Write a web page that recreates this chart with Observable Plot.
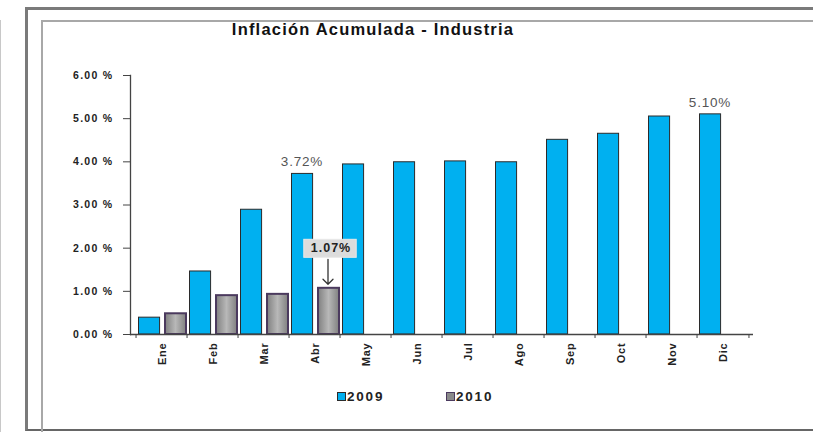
<!DOCTYPE html>
<html>
<head>
<meta charset="utf-8">
<script src="https://cdn.jsdelivr.net/npm/d3@7"></script>
<script src="https://cdn.jsdelivr.net/npm/@observablehq/plot@0.6"></script>
<style>
  html, body { margin: 0; padding: 0; background: #fff; width: 813px; height: 432px; overflow: hidden; }
  body { position: relative; font-family: "Liberation Sans", Arial, sans-serif; }
  #chart { position: absolute; left: 0; top: 0; }
  .frame-outer { position: absolute; left: 25px; top: 7px; width: 820px; height: 419px;
    border-left: 3px solid #7a7a7a; border-top: 3px solid #7a7a7a; border-bottom: 2px solid #666; }
  .frame-inner { position: absolute; left: 41px; top: 20px; width: 800px; height: 430px;
    border-left: 2px solid #a8a8a8; border-top: 2px solid #a8a8a8; }
  .edge { position: absolute; left: 0; top: 20px; width: 1px; height: 420px; background: #c8c8c8; }
  #title { position: absolute; left: 0; width: 746px; top: 20px; text-align: center;
    font-weight: bold; font-size: 16.5px; letter-spacing: 1.2px; color: #111; }
  #legend { position: absolute; top: 389px; left: 0; width: 813px; font-weight: bold; font-size: 13.5px; color: #222; letter-spacing: 1.8px; }
  .item { position: absolute; display: flex; align-items: center; }
  .sw { width: 7px; height: 7px; margin-right: 1px; }
</style>
</head>
<body>
<div class="edge"></div>
<div class="frame-outer"></div>
<div class="frame-inner"></div>
<div id="chart"></div>
<div id="title">Inflación Acumulada - Industria</div>
<div id="legend"></div>
<script>
const months = ["Ene","Feb","Mar","Abr","May","Jun","Jul","Ago","Sep","Oct","Nov","Dic"];
const values2009 = [0.39, 1.46, 2.89, 3.72, 3.94, 3.99, 4.01, 3.99, 4.51, 4.65, 5.05, 5.10];
const values2010 = [0.48, 0.90, 0.93, 1.07];
const series = ["2009", "2010"];
const yTicks = [0, 1, 2, 3, 4, 5, 6];
const plainLabels = [{month: "Abr", value: 3.72, label: "3.72%"}, {month: "Dic", value: 5.10, label: "5.10%"}];
const boxedLabels = [{month: "Abr", value: 1.07, label: "1.07%"}];

const colors = {"2009": "#00b0f0", "2010": "url(#grad2010)"};
const strokes = {"2009": "#2b2b2b", "2010": "#4b3a5e"};

const d2009 = months.map((m, i) => ({month: m, value: values2009[i]}));
const d2010 = values2010.map((v, i) => ({month: months[i], value: v}));

const W = 813, H = 432;
const mL = 130, mR = 60, mT = 75, mB = 98;
const bw = (W - mL - mR) / months.length;

const plot = Plot.plot({
  width: W, height: H,
  marginLeft: mL, marginRight: mR, marginTop: mT, marginBottom: mB,
  style: {background: "transparent", overflow: "visible", fontFamily: "'Liberation Sans', Arial, sans-serif"},
  x: {type: "band", domain: months, padding: 0},
  y: {domain: [0, 6], ticks: yTicks},
  marks: [
    Plot.barY(d2009, {x: "month", y: "value", fill: colors["2009"], stroke: strokes["2009"], strokeWidth: 1,
      insetLeft: 2.5, insetRight: bw - 24.5}),
    Plot.barY(d2010, {x: "month", y: "value", fill: colors["2010"], stroke: strokes["2010"], strokeWidth: 2,
      insetLeft: 29, insetRight: 1}),
    Plot.ruleY([0], {stroke: "#444", strokeWidth: 1.3}),
    Plot.frame({anchor: "left", stroke: "#444", strokeWidth: 1.3}),
    Plot.axisY({ticks: yTicks, tickSize: 7, tickPadding: 10, tickFormat: d => d.toFixed(2) + " %",
      fontWeight: "bold", fontSize: 10.5, fill: "#222", stroke: "#444", label: null, className: "yax"}),
    Plot.axisX({tickSize: 4, dx: -bw / 2, text: null, label: null, stroke: "#444"}),
    Plot.axisX(["Dic"], {tickSize: 4, dx: bw / 2, text: null, label: null, stroke: "#444"}),
    Plot.axisX({tickSize: 0, tickPadding: 8, tickRotate: -90, label: null, fontWeight: "bold", fontSize: 11, fill: "#222"}),
    Plot.text(plainLabels, {x: "month", y: "value", text: "label", dx: -13, dy: -12, fill: "#555", fontSize: 13.5}),
    Plot.text(boxedLabels, {x: "month", y: "value", text: "label", dx: 16, dy: -40, fill: "#222", fontSize: 12.5, fontWeight: "bold", className: "boxed"}),
    Plot.vector(boxedLabels, {x: "month", y: "value", dx: 13, dy: -29, length: 25, rotate: 180, anchor: "start", stroke: "#333", strokeWidth: 1.3, shape: "arrow"})
  ]
});
document.getElementById("chart").appendChild(plot);

// gradient for the 2010 bars
const svg = d3.select(plot);
const defs = svg.insert("defs", ":first-child");
const g = defs.append("linearGradient").attr("id", "grad2010").attr("x1", 0).attr("x2", 1).attr("y1", 0).attr("y2", 0);
g.append("stop").attr("offset", "0%").attr("stop-color", "#808080");
g.append("stop").attr("offset", "50%").attr("stop-color", "#b8b8b8");
g.append("stop").attr("offset", "100%").attr("stop-color", "#808080");

// letter spacing on the axis labels
svg.selectAll("text").filter(function() { return !this.closest(".boxed"); }).style("letter-spacing", "0.8px");
svg.selectAll(".yax text").style("letter-spacing", "1.3px");

// box behind the boxed annotation
svg.selectAll(".boxed text").each(function() {
  this.style.letterSpacing = "1px";
  const b = this.getBBox();
  const t = this.getAttribute("transform");
  d3.select(this.parentNode).insert("rect", () => this)
    .attr("x", b.x - 7).attr("y", b.y - 2).attr("width", b.width + 12).attr("height", b.height + 4)
    .attr("transform", t).attr("fill", "#dcdcdc").attr("stroke", "#e8e8e8");
});

// legend
const legend = document.getElementById("legend");
const legendPos = {"2009": 337, "2010": 446};
series.forEach(s => {
  const item = document.createElement("div");
  item.className = "item";
  item.style.left = legendPos[s] + "px";
  const sw = document.createElement("span");
  sw.className = "sw";
  sw.style.background = s === "2009" ? "#00b0f0" : "#8a8a8a";
  sw.style.border = "1px solid " + strokes[s];
  item.appendChild(sw);
  const tx = document.createElement("span");
  tx.textContent = s;
  item.appendChild(tx);
  legend.appendChild(item);
});
</script>
</body>
</html>
